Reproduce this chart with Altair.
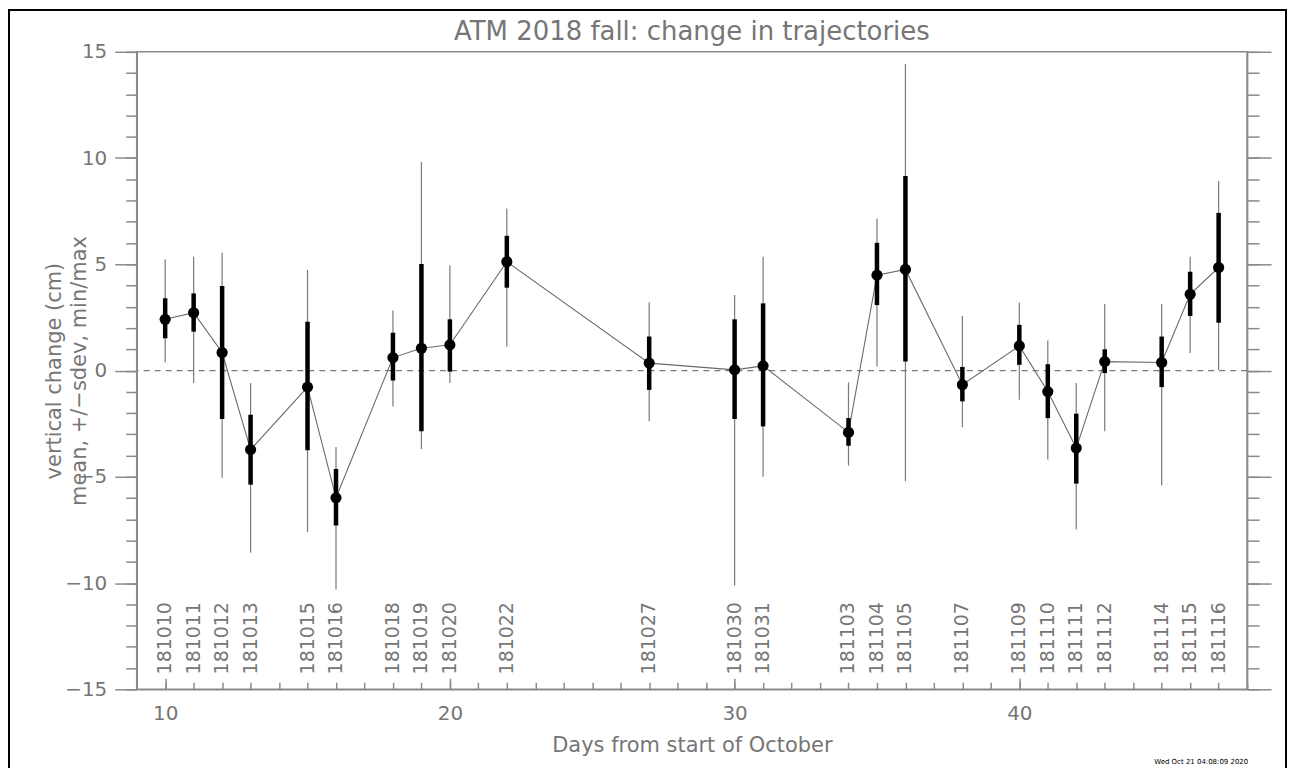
import altair as alt
import pandas as pd

labels = ["181010", "181011", "181012", "181013", "181015", "181016", "181018", "181019",
          "181020", "181022", "181027", "181030", "181031", "181103", "181104", "181105",
          "181107", "181109", "181110", "181111", "181112", "181114", "181115", "181116"]
days = [10, 11, 12, 13, 15, 16, 18, 19, 20, 22, 27, 30, 31, 34, 35, 36, 38, 40, 41, 42, 43, 45, 46, 47]
means = [2.41, 2.72, 0.85, -3.72, -0.78, -5.99, 0.61, 1.05, 1.21, 5.12, 0.35, 0.03,
         0.22, -2.91, 4.49, 4.76, -0.67, 1.16, -0.99, -3.65, 0.42, 0.38, 3.59, 4.85]
sd_hi = [3.40, 3.63, 3.98, -2.08, 2.30, -4.63, 1.78, 5.01, 2.41, 6.34, 1.60, 2.41,
         3.16, -2.24, 6.01, 9.15, 0.17, 2.15, 0.30, -2.03, 1.00, 1.60, 4.65, 7.42]
sd_lo = [1.52, 1.83, -2.28, -5.37, -3.75, -7.29, -0.47, -2.86, -0.05, 3.90, -0.91, -2.28,
         -2.63, -3.54, 3.08, 0.42, -1.45, 0.27, -2.24, -5.32, -0.12, -0.78, 2.57, 2.25]
maxs = [5.23, 5.35, 5.54, -0.59, 4.73, -3.60, 2.82, 9.81, 4.96, 7.62, 3.21, 3.55,
        5.35, -0.56, 7.15, 14.43, 2.57, 3.19, 1.41, -0.59, 3.13, 3.13, 5.35, 8.92]
mins = [0.39, -0.59, -5.05, -8.57, -7.60, -10.30, -1.69, -3.69, -0.59, 1.13, -2.39, -10.11,
        -5.00, -4.47, 0.19, -5.21, -2.67, -1.38, -4.19, -7.48, -2.86, -5.41, 0.82, 0.03]

x_major = [10, 20, 30, 40]
x_minor = list(range(9, 49))
y_major = [-15, -10, -5, 0, 5, 10, 15]
y_minor = list(range(-15, 16))

title_text = "ATM 2018 fall: change in trajectories"
stamp_text = "Wed Oct 21 04:08:09 2020"

df = pd.DataFrame({"label": labels, "day": days, "mean": means, "sd_hi": sd_hi,
                   "sd_lo": sd_lo, "max": maxs, "min": mins})

W, H = 1113, 639
FONT = "DejaVu Sans"
AX = "#8a8a8a"
TXT = "#767676"

xs = alt.Scale(domain=[9, 48], nice=False, zero=False)
ys = alt.Scale(domain=[-15, 15], nice=False, zero=False)

common_axis = dict(grid=False, domainColor=AX, tickColor=AX, domainWidth=1.5, tickWidth=1.5,
                   labelColor=TXT, labelFont=FONT, titleFont=FONT, titleColor=TXT)

base = alt.Chart(df)

whisk = base.mark_rule(color="#7a7a7a", strokeWidth=1.2).encode(
    x=alt.X("day:Q", scale=xs, axis=alt.Axis(
        values=x_major, tickSize=0, labelPadding=14, labelFontSize=20, format="d",
        title="Days from start of October", titleFontSize=21, titleFontWeight="normal",
        titleY=62, titleBaseline="alphabetic", **common_axis)),
    y=alt.Y("min:Q", scale=ys, axis=alt.Axis(
        values=y_major, tickSize=22, labelPadding=8, labelFontSize=20, format="d",
        title=["vertical change (cm)", "mean, +/\u2212sdev, min/max"], titleFontSize=21,
        titleFontWeight="normal", titleX=-82, titleY=H / 2, titleBaseline="middle",
        titleLineHeight=25, titleAngle=270, **common_axis)),
    y2="max:Q",
)

sdev = base.mark_rule(color="black", strokeWidth=4.5).encode(
    x=alt.X("day:Q", scale=xs, axis=alt.Axis(
        orient="top", offset=-H, values=x_minor, tickSize=7, labels=False, domain=False,
        title=None, **common_axis)),
    y=alt.Y("sd_lo:Q", scale=ys, axis=alt.Axis(
        values=y_minor, tickSize=11, labels=False, domain=False, title=None, **common_axis)),
    y2="sd_hi:Q",
)

line = base.mark_line(color="#6a6a6a", strokeWidth=1.1).encode(
    x=alt.X("day:Q", scale=xs, axis=alt.Axis(
        orient="top", offset=-H, values=x_major, tickSize=11, labels=False, domain=False,
        title=None, **common_axis)),
    y=alt.Y("mean:Q", scale=ys, axis=alt.Axis(
        orient="right", values=y_major, tickSize=24, labels=False, title=None, **common_axis)),
)

pts = base.mark_point(filled=True, color="black", opacity=1, size=125).encode(
    x=alt.X("day:Q", scale=xs, axis=None),
    y=alt.Y("mean:Q", scale=ys, axis=alt.Axis(
        orient="right", values=y_minor, tickSize=12, labels=False, domain=False,
        title=None, **common_axis)),
)

zero = alt.Chart(alt.Data(values=[{"z": 0}])).mark_rule(
    color="#7a7a7a", strokeWidth=1.2, strokeDash=[6, 5]).encode(
    y=alt.Y("z:Q", scale=ys, axis=None),
)

dates = base.mark_text(angle=270, align="left", baseline="middle", fontSize=19,
                       font=FONT, color=TXT).encode(
    x=alt.X("day:Q", scale=xs, axis=None),
    y=alt.YDatum(-14.3, scale=ys, axis=None),
    text="label:N",
)

frame = alt.Chart(alt.Data(values=[{"f": 1}])).mark_rect(
    filled=False, stroke="black", strokeWidth=2).encode(
    x=alt.value(-128), x2=alt.value(1152), y=alt.value(-42), y2=alt.value(760),
)

title = alt.Chart(alt.Data(values=[{"t": title_text}])).mark_text(
    fontSize=26, color=TXT, font=FONT, align="center", baseline="alphabetic").encode(
    x=alt.value(W / 2), y=alt.value(-12), text="t:N",
)

stamp = alt.Chart(alt.Data(values=[{"s": stamp_text}])).mark_text(
    fontSize=7, color="black", font=FONT, align="center", baseline="alphabetic").encode(
    x=alt.value(1067), y=alt.value(714), text="s:N",
)

chart = alt.layer(zero, line, whisk, sdev, pts, dates, frame, title, stamp).resolve_axis(
    x="independent", y="independent"
).properties(
    width=W, height=H,
    padding={"left": 129, "top": 43, "right": 42, "bottom": 78},
    autosize=alt.AutoSizeParams(type="none"),
).configure_view(stroke=AX, strokeWidth=1.5)

chart.save("out.html", embed_options={"renderer": "svg", "actions": False})
